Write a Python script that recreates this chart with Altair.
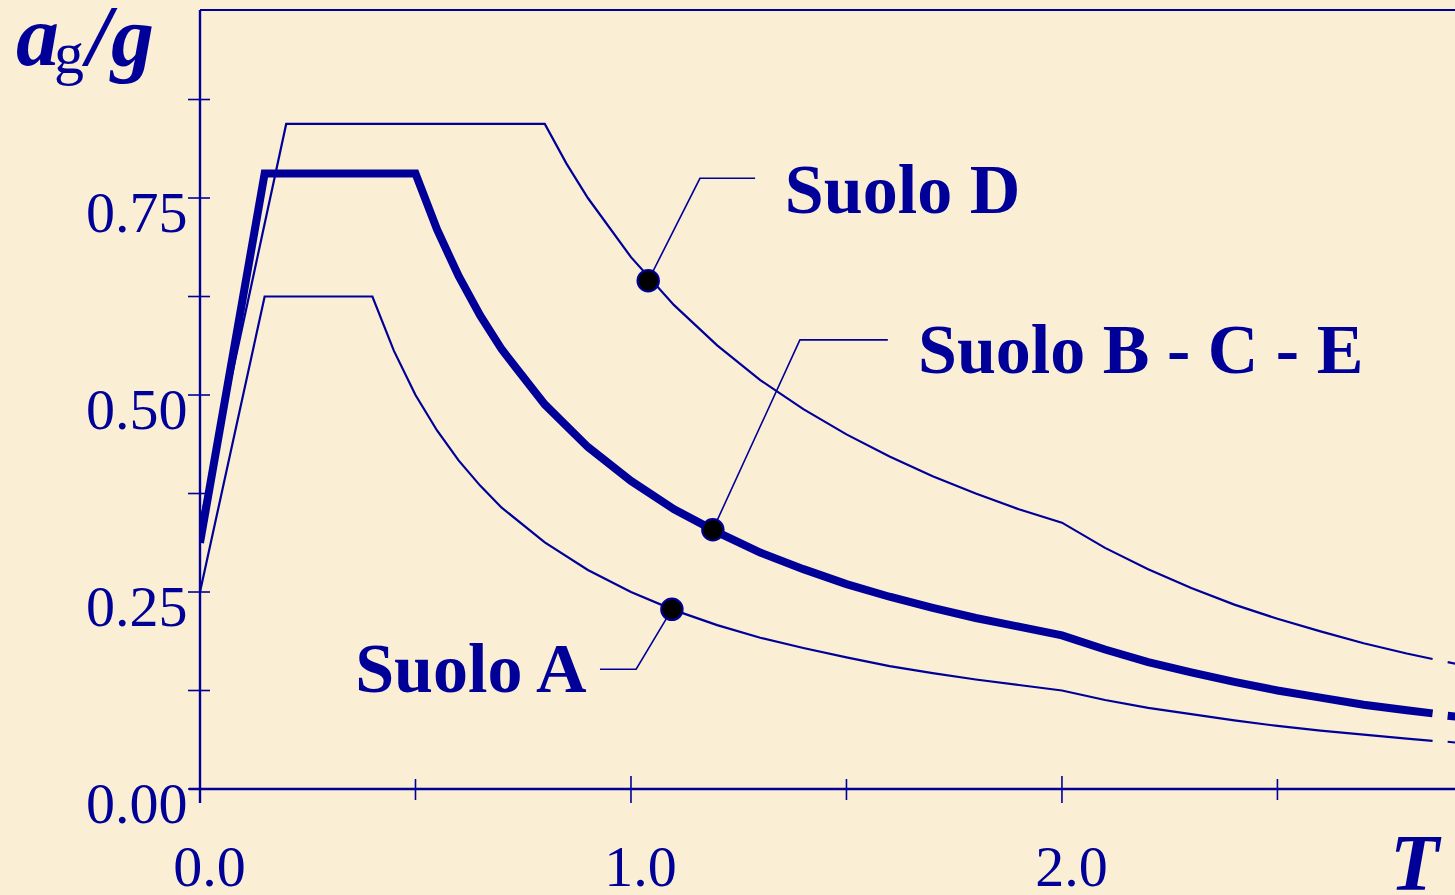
import altair as alt
import pandas as pd

# Elastic design spectra (ag/g versus period T) for the three soil groups
A_T = [0, 0.15, 0.40, 0.45, 0.50, 0.55, 0.60, 0.65, 0.70, 0.80, 0.90, 1.00,
       1.10, 1.20, 1.30, 1.40, 1.50, 1.60, 1.70, 1.80, 1.90, 2.00,
       2.10, 2.20, 2.30, 2.40, 2.50, 2.60, 2.70, 2.80, 2.86]
A_S = [0.25, 0.625, 0.625, 0.556, 0.500, 0.455, 0.417, 0.385, 0.357, 0.313, 0.278, 0.250,
       0.227, 0.208, 0.192, 0.179, 0.167, 0.156, 0.147, 0.139, 0.132, 0.125,
       0.113, 0.103, 0.095, 0.087, 0.080, 0.074, 0.069, 0.064, 0.061]

BCE_T = [0, 0.15, 0.50, 0.55, 0.60, 0.65, 0.70, 0.80, 0.90, 1.00,
         1.10, 1.20, 1.30, 1.40, 1.50, 1.60, 1.70, 1.80, 1.90, 2.00,
         2.10, 2.20, 2.30, 2.40, 2.50, 2.60, 2.70, 2.80, 2.86]
BCE_S = [0.3125, 0.781, 0.781, 0.710, 0.651, 0.601, 0.558, 0.488, 0.434, 0.391,
         0.355, 0.326, 0.300, 0.279, 0.260, 0.244, 0.230, 0.217, 0.206, 0.195,
         0.177, 0.161, 0.148, 0.136, 0.125, 0.116, 0.107, 0.100, 0.096]

D_T = [0, 0.20, 0.80, 0.85, 0.90, 1.00, 1.10, 1.20, 1.30, 1.40, 1.50, 1.60,
       1.70, 1.80, 1.90, 2.00, 2.10, 2.20, 2.30, 2.40, 2.50, 2.60, 2.70, 2.80, 2.86]
D_S = [0.3375, 0.844, 0.844, 0.794, 0.750, 0.675, 0.614, 0.563, 0.519, 0.482, 0.450, 0.422,
       0.397, 0.375, 0.355, 0.338, 0.306, 0.279, 0.255, 0.234, 0.216, 0.200, 0.185, 0.172, 0.165]

# short continuation pieces at the right edge
TAIL_T = [2.895, 2.93]
TAIL_A = [0.060, 0.058]
TAIL_BCE = [0.093, 0.091]
TAIL_D = [0.161, 0.157]

# callouts: point on the curve, elbow, end of leader, label anchor
LABELS = ["Suolo D", "Suolo B - C - E", "Suolo A"]
DOT_T = [1.04, 1.19, 1.095]
DOT_S = [0.645, 0.329, 0.228]
ELBOW_T = [1.160, 1.392, 1.012]
ELBOW_S = [0.775, 0.570, 0.152]
END_T = [1.288, 1.596, 0.928]
END_S = [0.775, 0.570, 0.152]
LABEL_T = [1.357, 1.666, 0.360]
LABEL_S = [0.731, 0.528, 0.123]

X_TICKS_MAJOR = [0.0, 1.0, 2.0]
X_TICKS_MINOR = [0.5, 1.5, 2.5]
Y_TICKS = [0.0, 0.125, 0.25, 0.375, 0.5, 0.625, 0.75, 0.875]
Y_LABELS = [0.0, 0.25, 0.5, 0.75]

NAVY = "#000099"
BG = "#FAEFD5"
SERIF = "Liberation Serif"
W, H = 1255, 779
XMAX, YMAX = 2.912, 0.9886

XS = alt.Scale(domain=[0, XMAX], nice=False, zero=False)
YS = alt.Scale(domain=[0, YMAX], nice=False, zero=False)
X_AX = alt.Axis(values=X_TICKS_MAJOR, format=".1f", title=None, domain=False, ticks=False,
                tickSize=0, grid=False, labelFont=SERIF, labelFontSize=58, labelColor=NAVY,
                labelBaseline="alphabetic", labelPadding=96, labelOffset=9,
                labelFlush=False, labelOverlap=False)
Y_AX = alt.Axis(values=Y_LABELS, format=".2f", title=None, domain=False, ticks=False,
                tickSize=0, grid=False, labelFont=SERIF, labelFontSize=58, labelColor=NAVY,
                labelBaseline="alphabetic", labelAlign="right", labelPadding=13,
                labelOffset=33, labelFlush=False, labelOverlap=False)


def X(field="T"):
    return alt.X(f"{field}:Q", scale=XS, axis=X_AX)


def Y(field="S"):
    return alt.Y(f"{field}:Q", scale=YS, axis=Y_AX)


rows = []
for name, ts, ss, tail in [("A", A_T, A_S, TAIL_A), ("BCE", BCE_T, BCE_S, TAIL_BCE),
                           ("D", D_T, D_S, TAIL_D)]:
    for i, (t, s) in enumerate(zip(ts, ss)):
        rows.append({"soil": name, "seg": name, "i": i, "T": t, "S": s})
    for i, (t, s) in enumerate(zip(TAIL_T, tail)):
        rows.append({"soil": name, "seg": name + "_tail", "i": i, "T": t, "S": s})
curves = pd.DataFrame(rows)

thin = alt.Chart(curves).transform_filter("datum.soil != 'BCE'").mark_line(
    color=NAVY, strokeWidth=2.2, clip=True
).encode(x=X(), y=Y(), detail="seg:N", order="i:Q")

thick = alt.Chart(curves).transform_filter("datum.soil == 'BCE'").mark_line(
    color=NAVY, strokeWidth=8, clip=True, strokeJoin="miter"
).encode(x=X(), y=Y(), detail="seg:N", order="i:Q")

one = pd.DataFrame({"k": [0]})

frame_top = alt.Chart(one).mark_rule(color=NAVY, strokeWidth=2).encode(
    x=alt.value(0), x2=alt.value(W), y=alt.value(0))
y_line = alt.Chart(one).mark_rule(color=NAVY, strokeWidth=2.4).encode(
    x=alt.value(0), y=alt.value(0), y2=alt.value(H + 14))
x_line = alt.Chart(one).mark_rule(color=NAVY, strokeWidth=2.4).encode(
    x=alt.value(-11), x2=alt.value(W), y=alt.value(H))

y_ticks = alt.Chart(pd.DataFrame({"S": Y_TICKS})).mark_rule(color=NAVY, strokeWidth=1.6).encode(
    y=Y(), x=alt.value(-12), x2=alt.value(10))
x_major = alt.Chart(pd.DataFrame({"T": X_TICKS_MAJOR})).mark_rule(color=NAVY, strokeWidth=1.6).encode(
    x=X(), y=alt.value(H - 13), y2=alt.value(H + 14))
x_minor = alt.Chart(pd.DataFrame({"T": X_TICKS_MINOR})).mark_rule(color=NAVY, strokeWidth=1.6).encode(
    x=X(), y=alt.value(H - 10), y2=alt.value(H + 11))

lead_rows = []
for lab, pts in zip(LABELS, zip(zip(DOT_T, DOT_S), zip(ELBOW_T, ELBOW_S), zip(END_T, END_S))):
    for i, (t, s) in enumerate(pts):
        lead_rows.append({"label": lab, "i": i, "T": t, "S": s})
leaders = alt.Chart(pd.DataFrame(lead_rows)).mark_line(color=NAVY, strokeWidth=1.6).encode(
    x=X(), y=Y(), detail="label:N", order="i:Q")

dots = alt.Chart(pd.DataFrame({"T": DOT_T, "S": DOT_S})).mark_point(
    shape="circle", filled=True, fill="black", stroke=NAVY, strokeWidth=2, size=460, opacity=1
).encode(x=X(), y=Y())

texts = alt.Chart(pd.DataFrame({"T": LABEL_T, "S": LABEL_S, "label": LABELS})).mark_text(
    font=SERIF, fontSize=70, fontWeight="bold", color=NAVY, align="left", baseline="alphabetic"
).encode(x=X(), y=Y(), text="label:N")

# axis titles: a_g / g on the vertical axis, T on the horizontal axis
t_a = alt.Chart(one).mark_text(text="a", font=SERIF, fontSize=86, fontWeight="bold",
                               fontStyle="italic", color=NAVY, align="left",
                               baseline="alphabetic").encode(x=alt.value(-184), y=alt.value(55))
t_sub = alt.Chart(one).mark_text(text="g", font=SERIF, fontSize=60, color=NAVY, align="left",
                                 baseline="alphabetic").encode(x=alt.value(-146), y=alt.value(63))
t_slash = alt.Chart(one).mark_text(text="/g", font=SERIF, fontSize=86, fontWeight="bold",
                                   fontStyle="italic", color=NAVY, align="left",
                                   baseline="alphabetic").encode(x=alt.value(-113), y=alt.value(55))
t_T = alt.Chart(one).mark_text(text="T", font=SERIF, fontSize=80, fontWeight="bold",
                               fontStyle="italic", color=NAVY, align="left",
                               baseline="alphabetic").encode(x=alt.value(1190), y=alt.value(880))

chart = alt.layer(
    thin, thick, frame_top, y_line, x_line, y_ticks, x_major, x_minor,
    leaders, dots, texts, t_a, t_sub, t_slash, t_T
).properties(
    width=W, height=H, background=BG, autosize="none",
    padding={"left": 200, "top": 10, "right": 0, "bottom": 106},
).configure_view(stroke=None)

chart.save("out.html", embed_options={"renderer": "svg", "actions": False})
